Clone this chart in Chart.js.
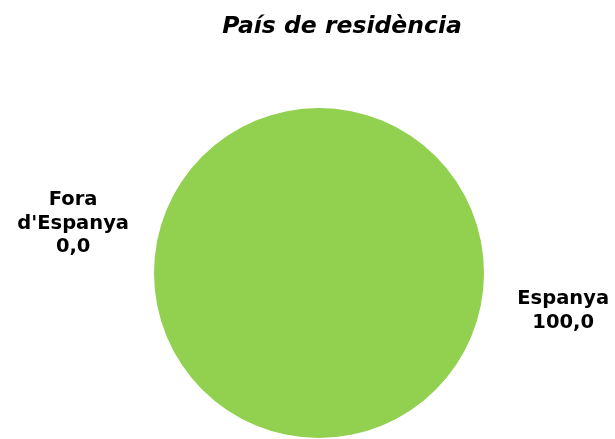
<!DOCTYPE html>
<html>
<head>
<meta charset="utf-8">
<script src="https://cdn.jsdelivr.net/npm/chart.js@4/dist/chart.umd.min.js"></script>
<style>
  html, body { margin: 0; padding: 0; background: #fff; }
  #wrap { width: 615px; height: 439px; position: relative; }
</style>
</head>
<body>
<div id="wrap"><canvas id="chart"></canvas></div>
<script>
var titleText = "País de residència";
var categories = ["Espanya", "Fora d'Espanya"];
var values = [100.0, 0.0];
var colors = ["#92D050", "#4F81BD"];

// etiquetes de dades: nom (pot tenir diverses línies) + valor amb coma decimal
var labelLines = [["Espanya"], ["Fora", "d'Espanya"]];

function formatValue(v) {
  return v.toFixed(1).replace(".", ",");
}

// Dibuixa el títol i les etiquetes al voltant del pastís
var textPlugin = {
  id: "textPlugin",
  afterDraw: function(chart) {
    var ctx = chart.ctx;
    var arc = chart.getDatasetMeta(0).data[0];
    var cx = arc.x;
    var cy = arc.y;
    var r = arc.outerRadius;

    ctx.save();
    ctx.fillStyle = "#000";
    ctx.textAlign = "center";
    ctx.textBaseline = "alphabetic";

    ctx.font = "italic bold 23.5px 'DejaVu Sans'";
    ctx.fillText(titleText, 342, 33);

    ctx.font = "bold 19.5px 'DejaVu Sans'";
    var lineH = 23.5;
    // posició de cada etiqueta relativa al centre del pastís
    var anchors = [
      { x: cx + r * 1.48, y: cy + r * 0.19 },
      { x: cx - r * 1.49, y: cy - r * 0.41 }
    ];
    categories.forEach(function(cat, i) {
      var lines = labelLines[i].concat([formatValue(values[i])]);
      lines.forEach(function(line, j) {
        ctx.fillText(line, anchors[i].x, anchors[i].y + j * lineH);
      });
    });
    ctx.restore();
  }
};

new Chart(document.getElementById("chart"), {
  type: "pie",
  data: {
    labels: categories,
    datasets: [{
      data: values,
      backgroundColor: colors,
      borderWidth: 0
    }]
  },
  options: {
    responsive: true,
    maintainAspectRatio: false,
    animation: false,
    layout: {
      padding: { top: 108, bottom: 1, left: 23, right: 0 }
    },
    plugins: {
      legend: { display: false },
      tooltip: { enabled: false },
      title: { display: false }
    }
  },
  plugins: [textPlugin]
});
</script>
</body>
</html>
